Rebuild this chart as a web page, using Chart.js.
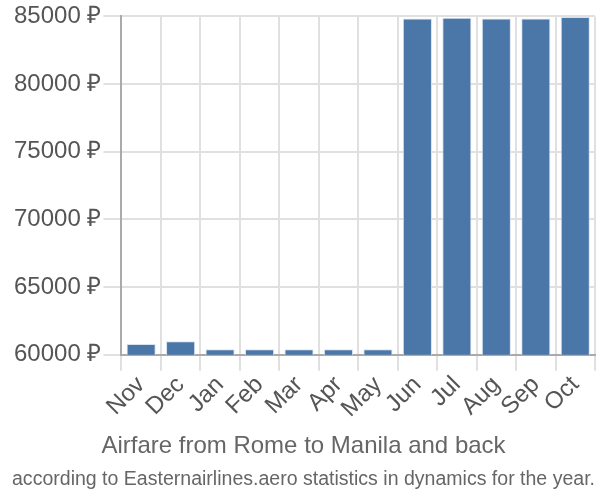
<!DOCTYPE html>
<html>
<head>
<meta charset="utf-8">
<style>
  html, body { margin: 0; padding: 0; background: #fff; }
  #wrap { width: 600px; height: 500px; }
</style>
</head>
<body>
<div id="wrap"><canvas id="fareChart"></canvas></div>

<script src="https://cdn.jsdelivr.net/npm/chart.js"></script>
<script>
    const months = ['Nov', 'Dec', 'Jan', 'Feb', 'Mar', 'Apr', 'May', 'Jun', 'Jul', 'Aug', 'Sep', 'Oct'];
    const prices = [60800, 61000, 60400, 60400, 60400, 60400, 60400, 84850, 84900, 84850, 84850, 84950];
    const yMin = 60000;
    const yMax = 85000;
    const yStep = 5000;

    const ctx = document.getElementById('fareChart').getContext('2d');
    new Chart(ctx, {
        type: 'bar',
        data: {
            labels: months,
            datasets: [{
                label: 'Airfare',
                data: prices,
                backgroundColor: '#4a76a8',
                borderColor: '#d6e2ef',
                borderWidth: 1,
                barPercentage: 0.9,
                categoryPercentage: 0.82
            }]
        },
        options: {
            responsive: true,
            maintainAspectRatio: false,
            animation: false,
            layout: { padding: { left: 12, right: 5, top: 5, bottom: 9 } },
            plugins: {
                legend: { display: false },
                tooltip: { enabled: false },
                title: {
                    display: true,
                    position: 'bottom',
                    weight: 500,
                    text: 'Airfare from Rome to Manila and back',
                    color: '#666',
                    font: { family: 'Liberation Sans', size: 24, weight: 'normal' },
                    padding: { top: 9, bottom: 2 }
                },
                subtitle: {
                    display: true,
                    position: 'bottom',
                    weight: 1000,
                    text: 'according to Easternairlines.aero statistics in dynamics for the year.',
                    color: '#666',
                    font: { family: 'Liberation Sans', size: 20 },
                    padding: { top: 4, bottom: 0 }
                }
            },
            scales: {
                x: {
                    grid: { color: '#e0e0e0', lineWidth: 2, offset: true, tickLength: 16 },
                    border: { color: '#aaa', width: 2 },
                    ticks: {
                        color: '#555',
                        font: { family: 'Liberation Sans', size: 24 },
                        autoSkip: false,
                        maxRotation: 45,
                        minRotation: 45,
                        padding: 0
                    }
                },
                y: {
                    min: yMin,
                    max: yMax,
                    grid: { color: '#e0e0e0', lineWidth: 2, tickLength: 18 },
                    border: { color: '#aaa', width: 2 },
                    ticks: {
                        stepSize: yStep,
                        color: '#555',
                        font: { family: 'Liberation Sans', size: 24 },
                        padding: 2,
                        callback: v => v + ' ₽'
                    }
                }
            }
        }
    });
</script>
</body>
</html>
